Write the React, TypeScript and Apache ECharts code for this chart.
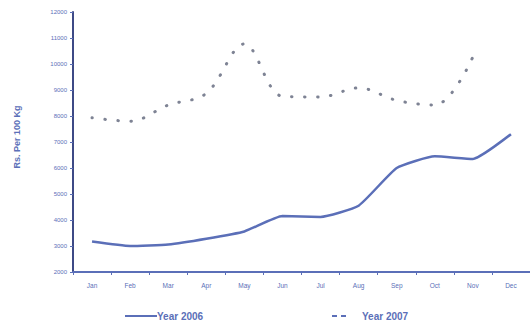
import React, { useEffect, useRef } from "react";
import * as echarts from "echarts";

const months = ["Jan", "Feb", "Mar", "Apr", "May", "Jun", "Jul", "Aug", "Sep", "Oct", "Nov", "Dec"];
const year2006 = [3170, 3000, 3060, 3280, 3560, 4150, 4120, 4550, 6000, 6450, 6350, 7300];
const year2007: (number | null)[] = [7930, 7800, 8420, 8870, 10770, 8760, 8730, 9080, 8600, 8420, 10270, null];
const yTicks = { min: 2000, max: 12000, step: 1000 };
const seriesNames = ["Year 2006", "Year 2007"];

const blue = "#5b6fb8";
const dotGray = "#7e8394";
const font = "Liberation Sans, Arial, sans-serif";

export default function App() {
  const ref = useRef<HTMLDivElement>(null);

  useEffect(() => {
    if (!ref.current) return;
    const chart = echarts.init(ref.current, null, { renderer: "svg" });
    const legendText = { fill: blue, fontSize: 10, fontWeight: "bold", fontFamily: font, verticalAlign: "middle" };
    chart.setOption({
      animation: false,
      backgroundColor: "#ffffff",
      grid: { left: 73, right: 0, top: 12, bottom: 54 },
      xAxis: {
        type: "category",
        data: months,
        boundaryGap: true,
        axisLine: { lineStyle: { color: blue, width: 2 } },
        axisTick: { show: true, length: 3, lineStyle: { color: blue } },
        axisLabel: { color: blue, fontSize: 6.5, fontFamily: font, margin: 10 },
      },
      yAxis: {
        type: "value",
        min: yTicks.min,
        max: yTicks.max,
        interval: yTicks.step,
        name: "Rs. Per 100 Kg",
        nameLocation: "middle",
        nameGap: 52,
        nameRotate: 90,
        nameTextStyle: { color: blue, fontSize: 9, fontWeight: "bold", fontFamily: font, padding: [0, 0, 0, 10] },
        axisLine: { show: true, lineStyle: { color: "#3e4a86", width: 2 } },
        axisTick: { show: true, length: 3, lineStyle: { color: blue } },
        axisLabel: { color: blue, fontSize: 6, fontFamily: font, margin: 6, formatter: (v: number) => String(v) },
        splitLine: { show: false },
      },
      graphic: [
        { type: "line", shape: { x1: 125, y1: 316, x2: 157, y2: 316 }, style: { stroke: blue, lineWidth: 2 } },
        { type: "text", x: 157, y: 316, style: { ...legendText, text: seriesNames[0] } },
        { type: "line", shape: { x1: 332, y1: 316, x2: 337, y2: 316 }, style: { stroke: blue, lineWidth: 2 } },
        { type: "line", shape: { x1: 341, y1: 316, x2: 346, y2: 316 }, style: { stroke: blue, lineWidth: 2 } },
        { type: "text", x: 362, y: 316, style: { ...legendText, text: seriesNames[1] } },
      ],
      series: [
        {
          name: seriesNames[0],
          type: "line",
          data: year2006,
          smooth: 0.15,
          symbol: "none",
          lineStyle: { color: blue, width: 2.5 },
        },
        {
          name: seriesNames[1],
          type: "line",
          data: year2007,
          smooth: 0.35,
          symbol: "none",
          connectNulls: false,
          lineStyle: { color: dotGray, width: 3, type: [0.5, 12.5], cap: "round" },
        },
      ],
    });
    return () => chart.dispose();
  }, []);

  return (
    <div
      ref={ref}
      style={{ position: "fixed", left: 0, top: 0, width: 530, height: 326 }}
    />
  );
}
